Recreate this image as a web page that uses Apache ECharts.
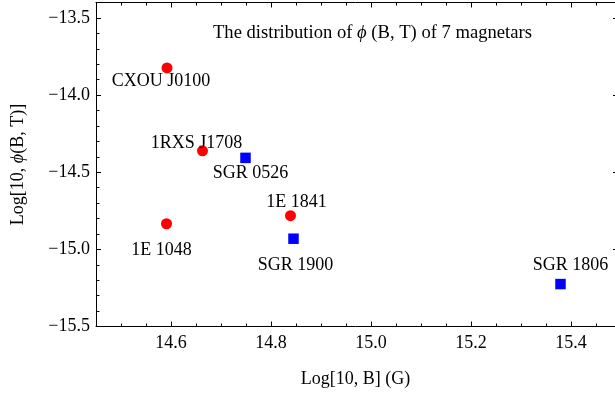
<!DOCTYPE html>
<html>
<head>
<meta charset="utf-8">
<script src="https://cdn.jsdelivr.net/npm/echarts@6/dist/echarts.min.js"></script>
<style>html,body{margin:0;padding:0;background:#fff}#c{width:615px;height:394px}</style>
</head>
<body>
<div id="c"></div>
<script>
// ---- data ----
const axpNames = ['CXOU J0100', '1RXS J1708', '1E 1048', '1E 1841'];
const axpLogB = [14.592, 14.663, 14.591, 14.839];
const axpLogPhi = [-13.824, -14.361, -14.834, -14.782];

const sgrNames = ['SGR 0526', 'SGR 1900', 'SGR 1806'];
const sgrLogB = [14.749, 14.845, 15.379];
const sgrLogPhi = [-14.407, -14.931, -15.225];

const xTicks = [14.6, 14.8, 15.0, 15.2, 15.4];
const xMinorTicks = [14.45, 14.5, 14.55, 14.65, 14.7, 14.75, 14.85, 14.9, 14.95, 15.05, 15.1, 15.15, 15.25, 15.3, 15.35, 15.45];
const yTicks = [-15.5, -15.0, -14.5, -14.0, -13.5];
const yMinorTicks = [-15.4, -15.3, -15.2, -15.1, -14.9, -14.8, -14.7, -14.6, -14.4, -14.3, -14.2, -14.1, -13.9, -13.8, -13.7, -13.6, -13.4];

// ---- label placement (pixel offsets, style only) ----
const axpLabelOffsets = [[-6, 13], [-6, -8], [-5, 27], [6, -13]];
const sgrLabelOffsets = [[5, 15], [2, 27], [10, -19]];

const FONT = 'Liberation Serif';
const X_MIN = 14.45, X_MAX = 15.488, Y_MIN = -15.5, Y_MAX = -13.4;

function fmt(v) { return v.toFixed(1).replace('-', '\u2212'); }

function mkX(pos, values, len, showLine, showLabel, extra) {
  return Object.assign({
    type: 'value', gridIndex: 0, position: pos, min: X_MIN, max: X_MAX,
    axisLine: { show: showLine, onZero: false, lineStyle: { color: '#000', width: 1 } },
    axisTick: { show: true, inside: true, length: len, customValues: values, lineStyle: { color: '#000', width: 1 } },
    axisLabel: showLabel ? { show: true, customValues: values, formatter: fmt, color: '#000', fontFamily: FONT, fontSize: 18, margin: 8 } : { show: false },
    splitLine: { show: false }
  }, extra || {});
}
function mkY(pos, values, len, showLine, showLabel, extra) {
  return Object.assign({
    type: 'value', gridIndex: 0, position: pos, min: Y_MIN, max: Y_MAX,
    axisLine: { show: showLine, onZero: false, lineStyle: { color: '#000', width: 1 } },
    axisTick: { show: true, inside: true, length: len, customValues: values, lineStyle: { color: '#000', width: 1 } },
    axisLabel: showLabel ? { show: true, customValues: values, formatter: fmt, color: '#000', fontFamily: FONT, fontSize: 18, margin: 6 } : { show: false },
    splitLine: { show: false }
  }, extra || {});
}

function build(names, xs, ys, offs) {
  return names.map((n, i) => ({ name: n, value: [xs[i], ys[i]], label: { offset: offs[i] } }));
}

const chart = echarts.init(document.getElementById('c'), null, { renderer: 'canvas' });
chart.setOption({
  animation: false,
  backgroundColor: '#fff',
  title: {
    text: '{n|The distribution of }{i|\u03d5}{n| (B, T) of 7 magnetars}',
    left: 213, top: 24, padding: 0,
    textStyle: {
      fontWeight: 'normal',
      rich: {
        n: { fontFamily: FONT, fontSize: 18.6, color: '#000', fontWeight: 'normal' },
        i: { fontFamily: FONT, fontSize: 18.6, color: '#000', fontStyle: 'italic', fontWeight: 'normal' }
      }
    }
  },
  grid: { left: 96, right: 0, top: 2.5, bottom: 67.5 },
  xAxis: [
    mkX('bottom', xTicks, 5, true, true, {
      name: 'Log[10, B] (G)', nameLocation: 'middle', nameGap: 44,
      nameTextStyle: { fontFamily: FONT, fontSize: 18, color: '#000' }
    }),
    mkX('bottom', xMinorTicks, 3, false, false),
    mkX('top', xTicks, 5, true, false),
    mkX('top', xMinorTicks, 3, false, false)
  ],
  yAxis: [
    mkY('left', yTicks, 5, true, true, {
      name: '{n|Log[10, }{i|\u03d5}{n|(B, T)]}', nameLocation: 'middle', nameGap: 69, nameRotate: 90,
      nameTextStyle: {
        fontFamily: FONT, fontSize: 18, color: '#000',
        rich: {
          n: { fontFamily: FONT, fontSize: 18, color: '#000' },
          i: { fontFamily: FONT, fontSize: 18, color: '#000', fontStyle: 'italic' }
        }
      }
    }),
    mkY('left', yMinorTicks, 3.5, false, false),
    mkY('right', yTicks, 2, false, false)
  ],
  series: [
    {
      type: 'scatter', xAxisIndex: 0, yAxisIndex: 0,
      symbol: 'circle', symbolSize: 11,
      itemStyle: { color: '#ff0000', opacity: 1 },
      label: { show: true, position: 'inside', formatter: '{b}', color: '#000', fontFamily: FONT, fontSize: 18 },
      data: build(axpNames, axpLogB, axpLogPhi, axpLabelOffsets)
    },
    {
      type: 'scatter', xAxisIndex: 0, yAxisIndex: 0,
      symbol: 'rect', symbolSize: 10.5,
      itemStyle: { color: '#0000ff', opacity: 1 },
      label: { show: true, position: 'inside', formatter: '{b}', color: '#000', fontFamily: FONT, fontSize: 18 },
      data: build(sgrNames, sgrLogB, sgrLogPhi, sgrLabelOffsets)
    }
  ]
});
</script>
</body>
</html>
